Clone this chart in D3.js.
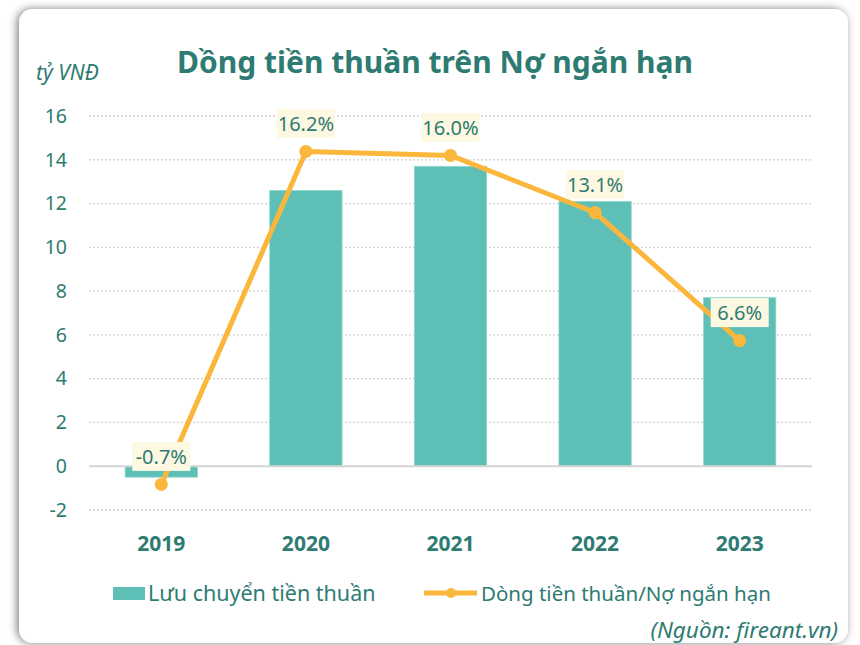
<!DOCTYPE html>
<html>
<head>
<meta charset="utf-8">
<script src="https://cdn.jsdelivr.net/npm/d3@7"></script>
<style>
  body { margin: 0; background: #f4f4f4; font-family: "Noto Sans", "Open Sans", sans-serif; }
  svg { display: block; }
</style>
</head>
<body>
<div id="chart"></div>
<script>
// số liệu
const years = ["2019", "2020", "2021", "2022", "2023"];
const cashFlow = [-0.5, 12.6, 13.7, 12.1, 7.7];      // tỷ VNĐ
const ratio = [-0.7, 16.2, 16.0, 13.1, 6.6];          // %
const yTicks = [-2, 0, 2, 4, 6, 8, 10, 12, 14, 16];

const W = 860, H = 645;
const teal = "#2e7b72";
const barColor = "#5dbfb6";
const lineColor = "#fbb73c";

const svg = d3.select("#chart").append("svg")
    .attr("width", W)
    .attr("height", H);

// bóng + khung
const defs = svg.append("defs");
const f = defs.append("filter").attr("id", "shadow")
    .attr("x", "-5%").attr("y", "-5%").attr("width", "110%").attr("height", "110%");
f.append("feDropShadow")
    .attr("dx", -2).attr("dy", 0).attr("stdDeviation", 4)
    .attr("flood-color", "#000").attr("flood-opacity", 0.5);

svg.append("rect").attr("width", W).attr("height", H).attr("fill", "#ffffff");
svg.append("rect")
    .attr("x", 19).attr("y", 9)
    .attr("width", 829).attr("height", 634)
    .attr("rx", 14)
    .attr("fill", "#fff")
    .attr("filter", "url(#shadow)");

const margin = { top: 116, left: 89, right: 48, bottom: 135 };
const plotW = W - margin.left - margin.right;
const plotH = H - margin.top - margin.bottom;

const g = svg.append("g").attr("transform", `translate(${margin.left},${margin.top})`);

const x = d3.scaleBand().domain(years).range([0, plotW])
    .paddingInner(0.5).paddingOuter(0.25);
const y = d3.scaleLinear().domain([-2, 16]).range([394, 0]);
const y2 = d3.scaleLinear().domain([-2, 18]).range([394, 0]);   // trục phụ ẩn (%)

// lưới
g.selectAll(".grid")
    .data(yTicks.filter(d => d !== 0))
    .enter().append("line")
    .attr("x1", 0).attr("x2", plotW)
    .attr("y1", d => y(d)).attr("y2", d => y(d))
    .attr("stroke", "#cfcfcf")
    .attr("stroke-width", 1.3)
    .attr("stroke-dasharray", "2,2");

// trục y
const yAxis = g.append("g")
    .call(d3.axisLeft(y).tickValues(yTicks).tickFormat(d => String(d)).tickSize(0).tickPadding(22));
yAxis.select(".domain").remove();
yAxis.selectAll("text")
    .attr("fill", teal)
    .style("font-size", "19.5px")
    .style("font-family", "Noto Sans");

// thanh
g.selectAll(".bar")
    .data(years.map((yr, i) => ({ yr, v: cashFlow[i] })))
    .enter().append("rect")
    .attr("x", d => x(d.yr))
    .attr("y", d => y(Math.max(0, d.v)))
    .attr("width", x.bandwidth())
    .attr("height", d => Math.abs(y(d.v) - y(0)))
    .attr("fill", barColor)
    .attr("stroke", "#8fd6cf")
    .attr("stroke-width", 0.8);

// đường 0
g.append("line")
    .attr("x1", 0).attr("x2", plotW)
    .attr("y1", y(0)).attr("y2", y(0))
    .attr("stroke", "#d4d4d4")
    .attr("stroke-width", 2);

// trục x
const xAxis = g.append("g")
    .attr("transform", `translate(0,${plotH})`)
    .call(d3.axisBottom(x).tickSize(0).tickPadding(26));
xAxis.select(".domain").remove();
xAxis.selectAll("text")
    .attr("fill", teal)
    .style("font-size", "21px")
    .style("font-weight", "bold")
    .style("font-family", "Noto Sans");

// đường tỷ lệ
const pts = years.map((yr, i) => ({ yr, v: ratio[i] }));
g.append("path")
    .datum(pts)
    .attr("fill", "none")
    .attr("stroke", lineColor)
    .attr("stroke-width", 5)
    .attr("stroke-linejoin", "round")
    .attr("d", d3.line().x(d => x(d.yr) + x.bandwidth() / 2).y(d => y2(d.v)));

g.selectAll(".dot")
    .data(pts)
    .enter().append("circle")
    .attr("cx", d => x(d.yr) + x.bandwidth() / 2)
    .attr("cy", d => y2(d.v))
    .attr("r", 6.5)
    .attr("fill", lineColor);

// nhãn
const lbl = g.selectAll(".lbl")
    .data(pts)
    .enter().append("g")
    .attr("transform", d => `translate(${x(d.yr) + x.bandwidth() / 2},${y2(d.v) - 28})`);
lbl.append("rect")
    .attr("x", -29).attr("y", -14.5)
    .attr("width", 58).attr("height", 29)
    .attr("fill", "#fdf8e2");
lbl.append("text")
    .attr("text-anchor", "middle")
    .attr("dy", "0.36em")
    .attr("fill", teal)
    .style("font-size", "20px")
    .text(d => d.v.toFixed(1) + "%");

// tiêu đề
svg.append("text")
    .attr("x", 435).attr("y", 73)
    .attr("text-anchor", "middle")
    .attr("fill", teal)
    .style("font-size", "30px")
    .style("font-weight", "bold")
    .text("Dồng tiền thuần trên Nợ ngắn hạn");

svg.append("text")
    .attr("x", 36).attr("y", 80)
    .attr("fill", teal)
    .style("font-size", "21px")
    .style("font-style", "italic")
    .text("tỷ VNĐ");

// chú thích
svg.append("rect")
    .attr("x", 113).attr("y", 587)
    .attr("width", 32).attr("height", 13)
    .attr("fill", barColor);
svg.append("text")
    .attr("x", 148).attr("y", 601)
    .attr("fill", teal)
    .style("font-size", "21.5px")
    .text("Lưu chuyển tiền thuần");

svg.append("line")
    .attr("x1", 424).attr("x2", 477)
    .attr("y1", 593).attr("y2", 593)
    .attr("stroke", lineColor).attr("stroke-width", 5);
svg.append("circle")
    .attr("cx", 451).attr("cy", 593).attr("r", 5)
    .attr("fill", lineColor);
svg.append("text")
    .attr("x", 481).attr("y", 601)
    .attr("fill", teal)
    .style("font-size", "20.5px")
    .text("Dòng tiền thuần/Nợ ngắn hạn");

svg.append("text")
    .attr("x", 838).attr("y", 638)
    .attr("text-anchor", "end")
    .attr("fill", teal)
    .style("font-size", "22.5px")
    .style("font-style", "italic")
    .text("(Nguồn: fireant.vn)");
</script>
</body>
</html>
